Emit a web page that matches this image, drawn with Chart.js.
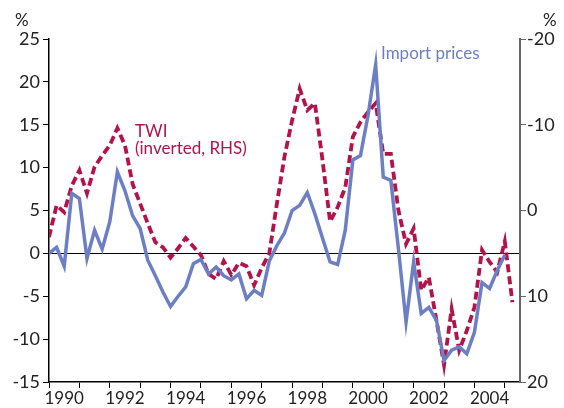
<!DOCTYPE html>
<html>
<head>
<meta charset="utf-8">
<script src="https://cdn.jsdelivr.net/npm/chart.js@4.4.1/dist/chart.umd.min.js"></script>
<style>
  html, body { margin: 0; padding: 0; background: #fff; }
  #wrap { position: relative; width: 564px; height: 408px; }
</style>
</head>
<body>
<div id="wrap"><canvas id="chart"></canvas></div>
<script>
// quarterly, starting 1990 Q1
var startYear = 1990;

// import prices, % (left axis)
var importPrices = [
  0.0, 0.7, -1.5, 7.0, 6.4, -0.6, 2.7, 0.5,
  3.7, 9.5, 7.3, 4.4, 2.9, -0.8, -2.6, -4.5,
  -6.2, -5.0, -3.9, -1.2, -0.7, -2.4, -1.6, -2.6,
  -3.1, -2.4, -5.3, -4.3, -4.9, -0.9, 0.9, 2.4,
  5.0, 5.6, 7.1, 4.6, 1.8, -1.0, -1.3, 2.7,
  10.9, 11.4, 16.1, 22.0, 8.9, 8.5, 0.5, -8.0,
  -1.0, -7.0, -6.3, -7.8, -12.5, -11.3, -10.9, -11.7,
  -9.2, -3.4, -4.1, -2.0, -0.2
];

// TWI, % (right axis, inverted)
var twi = [
  3.1, -0.6, 0.2, -2.9, -4.7, -2.0, -5.1, -6.4,
  -7.6, -9.6, -7.6, -3.1, -0.8, 1.5, 3.7, 4.3,
  5.5, 4.4, 3.2, 4.2, 5.2, 7.4, 8.0, 5.9,
  7.5, 6.1, 6.5, 8.7, 6.7, 5.0, -0.8, -6.3,
  -10.5, -14.2, -11.7, -12.5, -5.9, 1.3, -0.4, -2.7,
  -8.6, -10.3, -11.5, -12.5, -6.6, -6.6, 0.0, 3.9,
  2.1, 9.3, 7.8, 12.8, 18.0, 11.5, 16.3, 14.0,
  11.3, 4.6, 6.0, 7.2, 3.6, 10.7
];

var yearLabels = [1990, 1992, 1994, 1996, 1998, 2000, 2002, 2004];
var leftTicks = [-15, -10, -5, 0, 5, 10, 15, 20, 25];
var rightTicks = [-20, -10, 0, 10, 20];

var blue = '#6c7fc4';
var red = '#b3124a';
var font = 'Lato, "Open Sans", sans-serif';

function toPoints(values) {
  return values.map(function (v, i) { return { x: startYear + i / 4, y: v }; });
}

var notes = {
  id: 'notes',
  afterDraw: function (chart) {
    var c = chart.ctx;
    c.save();
    c.font = '17px ' + font;
    c.textBaseline = 'alphabetic';
    c.fillStyle = '#222';
    c.textAlign = 'left';
    c.fillText('%', 15, 26);
    c.fillText('%', 543, 26);
    c.fillStyle = red;
    c.fillText('TWI', 135, 137);
    c.fillText('(inverted, RHS)', 135, 154);
    c.fillStyle = blue;
    c.fillText('Import prices', 381, 59);
    c.restore();
  }
};

var ctx = document.getElementById('chart').getContext('2d');

new Chart(ctx, {
  type: 'line',
  data: {
    datasets: [{
      label: 'Import prices',
      data: toPoints(importPrices),
      borderColor: blue,
      borderWidth: 3.5,
      pointRadius: 0,
      tension: 0,
      yAxisID: 'y'
    }, {
      label: 'TWI (inverted, RHS)',
      data: toPoints(twi),
      borderColor: red,
      borderWidth: 3.8,
      borderDash: [8, 4],
      pointRadius: 0,
      tension: 0,
      yAxisID: 'y2'
    }]
  },
  options: {
    responsive: true,
    maintainAspectRatio: false,
    animation: false,
    layout: { padding: { top: 39, left: 0, right: 0, bottom: 0 } },
    plugins: {
      legend: { display: false },
      tooltip: { enabled: false }
    },
    scales: {
      x: {
        type: 'linear',
        min: 1990,
        max: 2005.5,
        afterBuildTicks: function (scale) {
          var t = [];
          for (var yr = 1990; yr <= 2005; yr++) {
            t.push({ value: yr });
            if (yearLabels.indexOf(yr) >= 0) t.push({ value: yr + 0.5 });
          }
          scale.ticks = t;
        },
        afterFit: function (scale) { scale.height = 26; },
        border: { display: true, color: '#000', width: 1.5 },
        grid: {
          drawOnChartArea: false,
          tickLength: 6,
          tickColor: function (c) { return Number.isInteger(c.tick.value) ? '#000' : 'rgba(0,0,0,0)'; }
        },
        ticks: {
          autoSkip: false,
          maxRotation: 0,
          padding: 0,
          color: '#222',
          font: { family: font, size: 17 },
          callback: function (v) { return Number.isInteger(v) ? '' : String(Math.floor(v)); }
        }
      },
      y: {
        position: 'left',
        min: -15,
        max: 25,
        afterBuildTicks: function (scale) {
          scale.ticks = leftTicks.map(function (v) { return { value: v }; });
        },
        afterFit: function (scale) { scale.width = 49; },
        border: { display: true, color: '#000', width: 1.5 },
        grid: {
          drawOnChartArea: true,
          tickLength: 6,
          tickColor: '#000',
          lineWidth: 1,
          color: function (c) { return c.tick && c.tick.value === 0 ? '#000' : 'rgba(0,0,0,0)'; }
        },
        ticks: {
          padding: 3,
          color: '#222',
          font: { family: font, size: 18 }
        }
      },
      y2: {
        position: 'right',
        reverse: true,
        min: -20,
        max: 20,
        afterBuildTicks: function (scale) {
          scale.ticks = rightTicks.map(function (v) { return { value: v }; });
        },
        afterFit: function (scale) { scale.width = 44; },
        border: { display: true, color: '#666', width: 2 },
        grid: {
          drawOnChartArea: false,
          tickLength: 6,
          tickColor: '#666'
        },
        ticks: {
          padding: 1,
          color: '#222',
          font: { family: font, size: 18 }
        }
      }
    }
  },
  plugins: [notes]
});
</script>
</body>
</html>
